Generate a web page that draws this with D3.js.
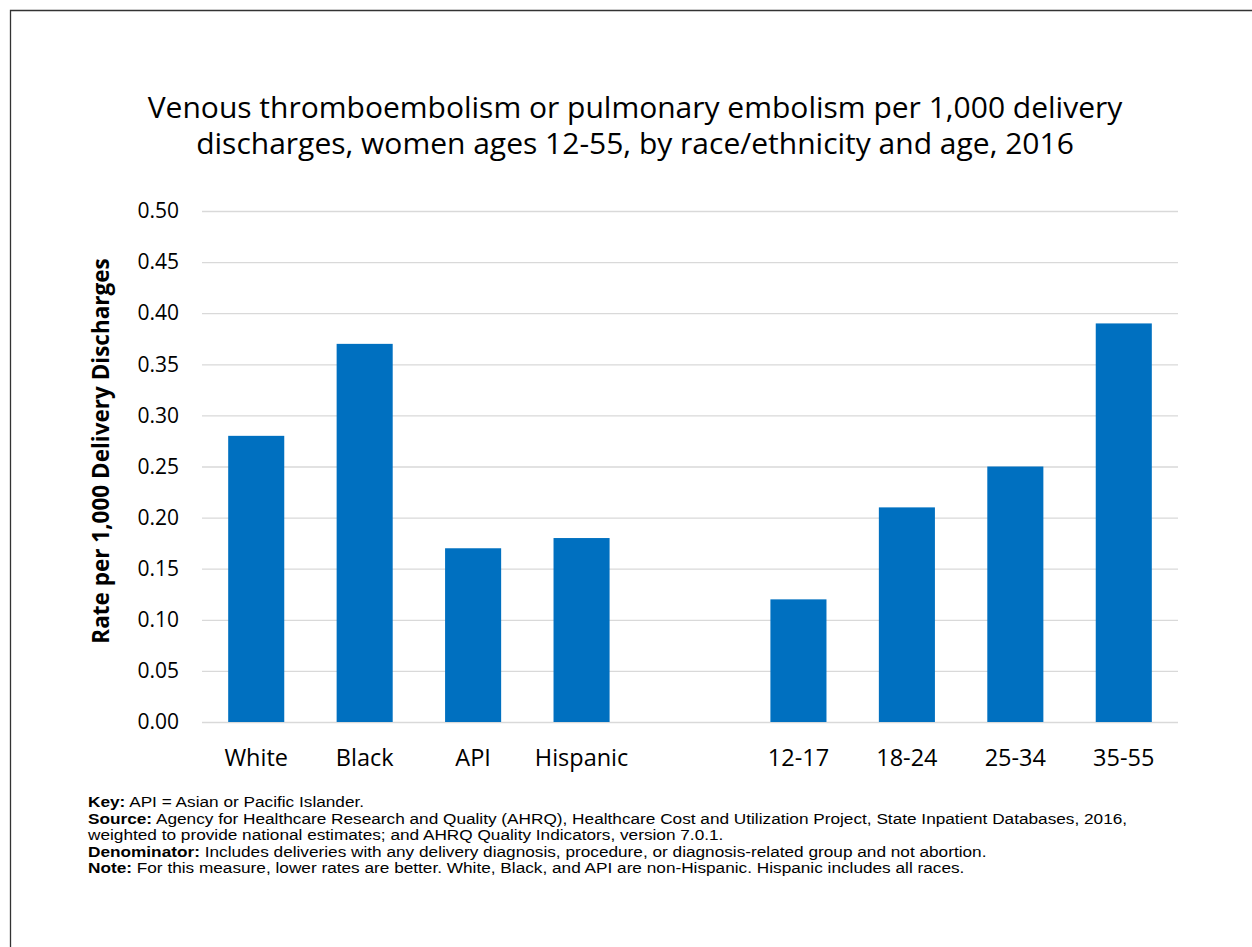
<!DOCTYPE html>
<html>
<head>
<meta charset="utf-8">
<script src="https://cdn.jsdelivr.net/npm/d3@7"></script>
<style>
  body { margin: 0; background: #fff; }
  svg { display: block; }
  .tick text { font-family: "Open Sans", Lato, sans-serif; fill: #000; }
  .foot { font-family: "Liberation Sans", Arial, sans-serif; font-size: 14px; fill: #000; }
</style>
</head>
<body>
<svg></svg>
<script>
const categories = ['White', 'Black', 'API', 'Hispanic', ' ', '12-17', '18-24', '25-34', '35-55'];
const rates = [0.28, 0.37, 0.17, 0.18, null, 0.12, 0.21, 0.25, 0.39];
const yTicks = [0, 0.05, 0.10, 0.15, 0.20, 0.25, 0.30, 0.35, 0.40, 0.45, 0.50];
const titleLines = [
  'Venous thromboembolism or pulmonary embolism per 1,000 delivery',
  'discharges, women ages 12-55, by race/ethnicity and age, 2016'
];
const notes = [
  ['Key:', ' API = Asian or Pacific Islander.'],
  ['Source:', ' Agency for Healthcare Research and Quality (AHRQ), Healthcare Cost and Utilization Project, State Inpatient Databases, 2016,'],
  ['', 'weighted to provide national estimates; and AHRQ Quality Indicators, version 7.0.1.'],
  ['Denominator:', ' Includes deliveries with any delivery diagnosis, procedure, or diagnosis-related group and not abortion.'],
  ['Note:', ' For this measure, lower rates are better. White, Black, and API are non-Hispanic. Hispanic includes all races.']
];

const W = 1252, H = 947;
const margin = {top: 211, right: 74, bottom: 225, left: 202};
const innerWidth = W - margin.left - margin.right;
const innerHeight = H - margin.top - margin.bottom;

const svg = d3.select('svg').attr('width', W).attr('height', H);

// frame (only top & left edges show in the picture)
svg.append('path')
  .attr('d', `M10.5,${H} V10.5 H${W}`)
  .attr('fill', 'none')
  .attr('stroke', '#333')
  .attr('stroke-width', 1.3);

const data = categories.map((c, i) => ({cat: c, value: rates[i]}));

const xScale = d3.scaleBand()
  .domain(categories)
  .range([0, innerWidth])
  .paddingInner(0.483)
  .paddingOuter(0.2415);

const yScale = d3.scaleLinear()
  .domain([0, 0.5])
  .range([innerHeight, 0]);

const g = svg.append('g')
  .attr('transform', `translate(${margin.left},${margin.top})`);

const yAxis = g.append('g')
  .call(d3.axisLeft(yScale).tickValues(yTicks).tickFormat(d3.format('.2f')).tickSize(-innerWidth).tickPadding(23));
yAxis.select('.domain').remove();
yAxis.selectAll('.tick line').attr('stroke', '#d9d9d9').attr('stroke-width', 1.3);
yAxis.selectAll('.tick text').attr('font-size', 21);

g.selectAll('rect.bar').data(data.filter(d => d.value != null))
  .enter().append('rect')
  .attr('class', 'bar')
  .attr('x', d => xScale(d.cat))
  .attr('width', xScale.bandwidth())
  .attr('y', d => yScale(d.value))
  .attr('height', d => innerHeight - yScale(d.value))
  .attr('fill', '#0070c0');

const xAxis = g.append('g')
  .attr('transform', `translate(0,${innerHeight})`)
  .call(d3.axisBottom(xScale).tickSize(0).tickPadding(27));
xAxis.select('.domain').remove();
xAxis.selectAll('.tick text').attr('font-size', 23.5);

// y axis title
svg.append('text')
  .attr('transform', `translate(109,451) rotate(-90)`)
  .attr('text-anchor', 'middle')
  .attr('font-family', '"Open Sans", sans-serif')
  .attr('font-weight', 'bold')
  .attr('font-size', 22.5)
  .text('Rate per 1,000 Delivery Discharges');

// chart title
svg.append('g').selectAll('text').data(titleLines)
  .enter().append('text')
  .attr('x', 635)
  .attr('y', (d, i) => 118 + i * 36)
  .attr('text-anchor', 'middle')
  .attr('font-family', '"Open Sans", sans-serif')
  .attr('font-size', 30)
  .text(d => d);

// footnotes (the source type is wider than Arial, so stretch it)
const foot = svg.append('g')
  .attr('transform', 'translate(88,0) scale(1.23,1)')
  .selectAll('text').data(notes)
  .enter().append('text')
  .attr('class', 'foot')
  .attr('x', 0)
  .attr('y', (d, i) => 807 + i * 16.6);
foot.append('tspan').attr('font-weight', 'bold').text(d => d[0]);
foot.append('tspan').text(d => d[1]);
</script>
</body>
</html>
